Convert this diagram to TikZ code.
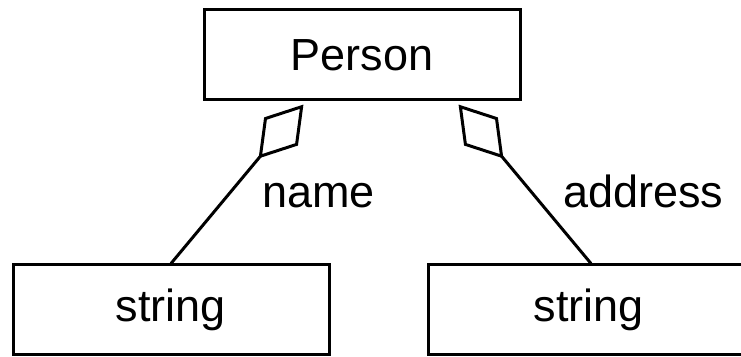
\documentclass[tikz,border=0pt]{standalone}
\usepackage{fontspec}
\setmainfont{Liberation Sans}
\usetikzlibrary{arrows.meta, positioning}
\tikzset{
    block/.style={rectangle, draw, line width=1.5pt, minimum width=158pt, minimum height=45pt, align=center, font=\fontsize{22.5}{27}\selectfont},
    role/.style={inner sep=0pt, font=\fontsize{22.5}{27}\selectfont},
    aggr/.style={line width=1.5pt, {Diamond[open, length=35pt, width=22pt]}-, shorten <=2pt}
}

\begin{document}
\begin{tikzpicture}[x=0.5pt, y=-0.5pt]
            \useasboundingbox (0,0) rectangle (741,357);
            \node[block] (person) at (362,55) {Person};
            \node[block] (namestr) at (171,310) {string};
            \node[block, minimum width=161pt] (addrstr) at (589,310) {string};

            \coordinate (nameend) at ([xshift=-28pt]person.south);
            \coordinate (addrend) at ([xshift=47pt]person.south);

            \draw[aggr] (nameend) -- (namestr.north);
            \draw[aggr] (addrend) -- ([xshift=1pt]addrstr.north);

            \node[role, anchor=base west] (namelbl) at (262,208) {name};
            \node[role, anchor=base west] (addrlbl) at (563,208) {address};
        \end{tikzpicture}
\end{document}
